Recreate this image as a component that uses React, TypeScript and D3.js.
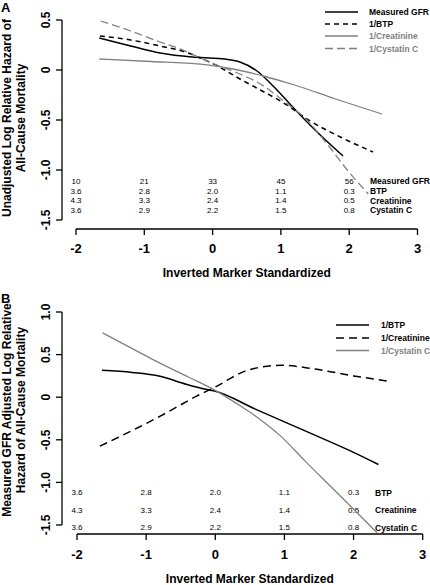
import React from "react";
import * as d3 from "d3";

type Pt = [number, number];

// ---------- Panel A data ----------
const aMeasuredGFR: Pt[] = [[-1.66, 0.32], [-1.2, 0.24], [-0.77, 0.17], [-0.3, 0.13], [0.1, 0.115], [0.4, 0.08], [0.65, -0.01], [0.9, -0.17], [1.2, -0.39], [1.5, -0.6], [1.91, -0.86]];
const aBTP: Pt[] = [[-1.65, 0.34], [-1.2, 0.3], [-0.77, 0.24], [-0.4, 0.18], [-0.18, 0.12], [0.1, 0.03], [0.4, -0.09], [0.7, -0.2], [1.04, -0.33], [1.43, -0.51], [1.9, -0.68], [2.35, -0.82]];
const aCreatinine: Pt[] = [[-1.66, 0.11], [-0.9, 0.085], [-0.18, 0.058], [0.3, 0.01], [0.74, -0.06], [1.2, -0.15], [1.8, -0.29], [2.48, -0.44]];
const aCystatin: Pt[] = [[-1.64, 0.49], [-1.2, 0.39], [-0.77, 0.28], [-0.4, 0.19], [-0.18, 0.12], [0.1, 0.04], [0.4, -0.04], [0.7, -0.14], [1.04, -0.31], [1.38, -0.5], [1.7, -0.76], [1.96, -0.99], [2.28, -1.24]];

// ---------- Panel B data ----------
const bBTP: Pt[] = [[-1.64, 0.315], [-1.2, 0.29], [-0.8, 0.245], [-0.41, 0.15], [-0.12, 0.09], [0, 0.07], [0.58, -0.14], [1.0, -0.29], [1.54, -0.48], [1.9, -0.61], [2.36, -0.79]];
const bCreatinine: Pt[] = [[-1.67, -0.575], [-1.4, -0.47], [-1.1, -0.35], [-0.7, -0.18], [-0.3, 0.0], [0, 0.12], [0.48, 0.32], [0.96, 0.375], [1.44, 0.33], [2.0, 0.25], [2.48, 0.19]];
const bCystatin: Pt[] = [[-1.63, 0.755], [-1.2, 0.57], [-0.85, 0.42], [-0.4, 0.24], [0, 0.08], [0.3, -0.07], [0.58, -0.22], [0.95, -0.46], [1.3, -0.75], [1.71, -1.08], [2.34, -1.59]];

// ---------- axes / table ----------
const xTicks = [-2, -1, 0, 1, 2, 3];
const aYTicks = [0.5, 0, -0.5, -1.0, -1.5];
const bYTicks = [1.0, 0.5, 0, -0.5, -1.0, -1.5];
const tableCols = [-2, -1, 0, 1, 2];

const aTableLabels = ["Measured GFR", "BTP", "Creatinine", "Cystatin C"];
const aTableRows = [
  ["10", "21", "33", "45", "56"],
  ["3.6", "2.8", "2.0", "1.1", "0.3"],
  ["4.3", "3.3", "2.4", "1.4", "0.5"],
  ["3.6", "2.9", "2.2", "1.5", "0.8"],
];
const bTableLabels = ["BTP", "Creatinine", "Cystatin C"];
const bTableRows = [
  ["3.6", "2.8", "2.0", "1.1", "0.3"],
  ["4.3", "3.3", "2.4", "1.4", "0.5"],
  ["3.6", "2.9", "2.2", "1.5", "0.8"],
];

const aLegend = ["Measured GFR", "1/BTP", "1/Creatinine", "1/Cystatin C"];
const bLegend = ["1/BTP", "1/Creatinine", "1/Cystatin C"];

const FONT = "'Liberation Sans', Arial, Helvetica, sans-serif";
const GRAY = "#808080";

type Series = { data: Pt[]; color: string; dash?: string; width: number; label: string; textColor: string };

type PanelProps = {
  letter: string;
  letterY: number;
  xRange: [number, number];
  yDomain: [number, number];
  yRange: [number, number];
  yTicks: number[];
  axisX: number;
  axisY: number;
  xTickLabelY: number;
  xTitleY: number;
  yTickLabelX: number;
  titleLines: string[];
  titleX: number[];
  titleCY: number;
  series: Series[];
  legendX: [number, number];
  legendTextX: number;
  legendY: number[];
  tableLabels: string[];
  tableRows: string[][];
  tableY: number[];
  tableLabelX: number;
};

function Panel(p: PanelProps) {
  const x = d3.scaleLinear().domain([-2, 3]).range(p.xRange);
  const y = d3.scaleLinear().domain(p.yDomain).range(p.yRange);
  const line = d3
    .line<Pt>()
    .x((d) => x(d[0]))
    .y((d) => y(d[1]))
    .curve(d3.curveMonotoneX);
  const yMin = d3.min(p.yTicks)!;
  const yMax = d3.max(p.yTicks)!;
  return (
    <g fontFamily={FONT}>
      <text x={1} y={p.letterY} fontSize={13} fontWeight="bold">{p.letter}</text>
      {/* y axis */}
      <line x1={p.axisX} x2={p.axisX} y1={y(yMax)} y2={y(yMin)} stroke="#000" strokeWidth={1.3} />
      {p.yTicks.map((t) => (
        <g key={t}>
          <line x1={p.axisX - 6} x2={p.axisX} y1={y(t)} y2={y(t)} stroke="#000" strokeWidth={1.3} />
          <text
            transform={`translate(${p.yTickLabelX},${y(t)}) rotate(-90)`}
            textAnchor="middle"
            fontSize={12}
            fontWeight="bold"
          >
            {t === 0 ? "0" : t.toFixed(1)}
          </text>
        </g>
      ))}
      {/* x axis */}
      <line x1={x(-2)} x2={x(3)} y1={p.axisY} y2={p.axisY} stroke="#000" strokeWidth={1.3} />
      {xTicks.map((t) => (
        <g key={t}>
          <line x1={x(t)} x2={x(t)} y1={p.axisY} y2={p.axisY + 6} stroke="#000" strokeWidth={1.3} />
          <text x={x(t)} y={p.xTickLabelY} textAnchor="middle" fontSize={13} fontWeight="bold">
            {String(t)}
          </text>
        </g>
      ))}
      <text x={(p.xRange[0] + p.xRange[1]) / 2 + 0} y={p.xTitleY} textAnchor="middle" fontSize={12} fontWeight="bold">
        Inverted Marker Standardized
      </text>
      {p.titleLines.map((s, i) => (
        <text
          key={s}
          transform={`translate(${p.titleX[i]},${p.titleCY}) rotate(-90)`}
          textAnchor="middle"
          fontSize={12}
          fontWeight="bold"
        >
          {s}
        </text>
      ))}
      {/* table */}
      {p.tableRows.map((row, ri) => (
        <g key={ri}>
          {row.map((v, ci) => (
            <text key={ci} x={x(tableCols[ci])} y={p.tableY[ri]} textAnchor="middle" dominantBaseline="central" fontSize={8}>
              {v}
            </text>
          ))}
          <text x={p.tableLabelX} y={p.tableY[ri]} dominantBaseline="central" fontSize={8.5} fontWeight="bold">
            {p.tableLabels[ri]}
          </text>
        </g>
      ))}
      {/* curves */}
      {p.series.map((s) => (
        <path key={s.label} d={line(s.data) || ""} fill="none" stroke={s.color} strokeWidth={s.width} strokeDasharray={s.dash} />
      ))}
      {/* legend */}
      {p.series.map((s, i) => (
        <g key={"lg" + s.label}>
          <line x1={p.legendX[0]} x2={p.legendX[1]} y1={p.legendY[i]} y2={p.legendY[i]} stroke={s.color} strokeWidth={s.width} strokeDasharray={s.dash} />
          <text x={p.legendTextX} y={p.legendY[i]} dominantBaseline="central" fontSize={8.5} fontWeight="bold" fill={s.textColor}>
            {s.label}
          </text>
        </g>
      ))}
    </g>
  );
}

export default function App() {
  const aSeries: Series[] = [
    { data: aMeasuredGFR, color: "#000", width: 1.5, label: aLegend[0], textColor: "#000" },
    { data: aBTP, color: "#000", dash: "5,4", width: 1.5, label: aLegend[1], textColor: "#000" },
    { data: aCreatinine, color: GRAY, width: 1.3, label: aLegend[2], textColor: GRAY },
    { data: aCystatin, color: GRAY, dash: "8,4", width: 1.3, label: aLegend[3], textColor: GRAY },
  ];
  const bSeries: Series[] = [
    { data: bBTP, color: "#000", width: 1.5, label: bLegend[0], textColor: "#000" },
    { data: bCreatinine, color: "#000", dash: "8,5", width: 1.5, label: bLegend[1], textColor: "#000" },
    { data: bCystatin, color: GRAY, width: 1.3, label: bLegend[2], textColor: GRAY },
  ];
  return (
    <svg width={430} height={585} style={{ position: "absolute", left: 0, top: 0, background: "#fff" }}>
      <rect width={430} height={585} fill="#fff" />
      <Panel
        letter="A"
        letterY={12}
        xRange={[76, 417.5]}
        yDomain={[-1.5, 0.5]}
        yRange={[220, 20]}
        yTicks={aYTicks}
        axisX={62}
        axisY={229}
        xTickLabelY={253}
        xTitleY={277}
        yTickLabelX={50}
        titleLines={["Unadjusted Log Relative Hazard of", "All-Cause Mortality"]}
        titleX={[11, 25]}
        titleCY={118}
        series={aSeries}
        legendX={[325, 358]}
        legendTextX={369}
        legendY={[12, 24, 36, 48.5]}
        tableLabels={aTableLabels}
        tableRows={aTableRows}
        tableY={[181, 191, 200.5, 210]}
        tableLabelX={370}
      />
      <Panel
        letter="B"
        letterY={303}
        xRange={[77, 422.7]}
        yDomain={[-1.5, 1.0]}
        yRange={[525, 312]}
        yTicks={bYTicks}
        axisX={62}
        axisY={534}
        xTickLabelY={559}
        xTitleY={583}
        yTickLabelX={50}
        titleLines={["Measured GFR Adjusted Log Relative", "Hazard of All-Cause Mortality"]}
        titleX={[11, 25]}
        titleCY={410}
        series={bSeries}
        legendX={[336, 369]}
        legendTextX={381}
        legendY={[325, 338, 350.5]}
        tableLabels={bTableLabels}
        tableRows={bTableRows}
        tableY={[492.5, 510, 527.5]}
        tableLabelX={375}
      />
    </svg>
  );
}
